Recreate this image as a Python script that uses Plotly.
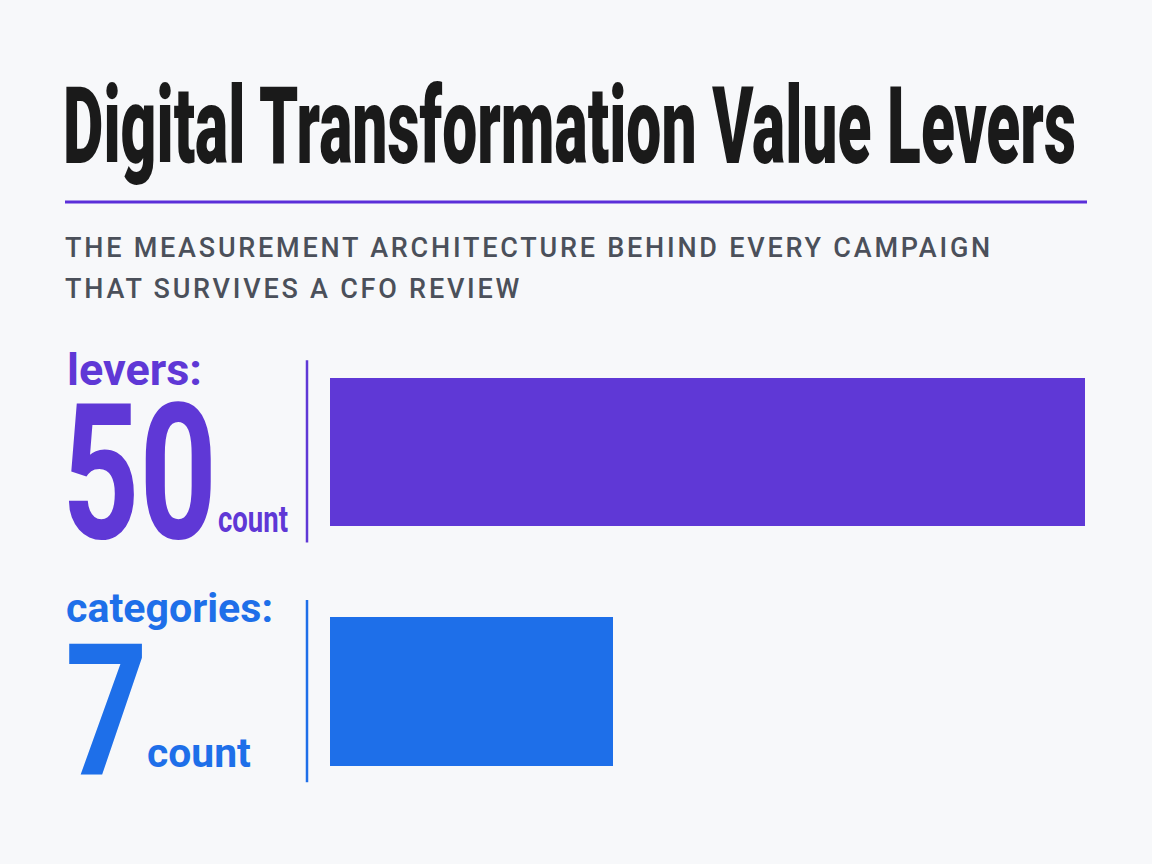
import json
import numpy as np
import plotly.graph_objects as go

# ---- data ----
labels = ["levers", "categories"]
values = [50, 7]
units = ["count", "count"]
title_text = "Digital Transformation Value Levers"
subtitle_lines = ["THE MEASUREMENT ARCHITECTURE BEHIND EVERY CAMPAIGN",
                  "THAT SURVIVES A CFO REVIEW"]

W, H = 1152, 864
BG = "#f7f8fa"
PURPLE = "#5f38d6"
BLUE = "#1e6fe9"
row_colors = [PURPLE, BLUE]
FONT = "Roboto, Inter, sans-serif"


def px(x):
    return x / W


def py(y):
    return 1 - y / H


def bottom_for(baseline, size):
    # annotation box bottom (paper) for a desired text baseline in px
    return py(baseline + 0.26 * size + 1)


fig = go.Figure()

# bars (square-root scaled length)
fig.add_trace(go.Bar(
    y=labels,
    x=np.sqrt(values),
    orientation="h",
    width=0.62,
    marker=dict(color=row_colors, line=dict(width=0)),
    hoverinfo="skip",
    showlegend=False,
))


def ann(text, x, baseline, size, color, weight="bold"):
    return dict(text=text, x=px(x), y=bottom_for(baseline, size),
                xref="paper", yref="paper", xanchor="left", yanchor="bottom",
                showarrow=False,
                font=dict(family=FONT, size=size, color=color, weight=weight))


annotations = [
    ann(title_text, 71, 162, 108, "#1a1a1a", 900),                  # 0
    ann(subtitle_lines[0], 73, 258, 27, "#4b505a", 500),            # 1
    ann(subtitle_lines[1], 73, 299, 27, "#4b505a", 500),            # 2
    ann(labels[0] + ":", 75, 385, 45, row_colors[0]),               # 3
    ann(str(values[0]), 70, 536, 190, row_colors[0]),               # 4
    ann(units[0], 226, 532, 37, row_colors[0]),                     # 5
    ann(labels[1] + ":", 74, 623, 40, row_colors[1]),               # 6
    ann(str(values[1]), 73, 773, 183, row_colors[1]),               # 7
    ann(units[1], 155, 767, 41, row_colors[1]),                     # 8
]

# horizontal fitting targets (left px, width px) for condensed type
fit_specs = [
    dict(i=0, left=71, width=1013),
    dict(i=3, left=75, width=135),
    dict(i=4, left=70, width=155),
    dict(i=5, left=226, width=70),
    dict(i=6, left=74, width=207),
    dict(i=7, left=73, width=83),
    dict(i=8, left=155, width=104),
]
spaced_specs = dict(ref=1, others=[2], left=73, width=928, sx=1.0)

shapes = [
    dict(type="line", xref="paper", yref="paper", x0=px(65), x1=px(1087), y0=py(202), y1=py(202),
         line=dict(color="#5b2fd9", width=3)),
]
for i, c in enumerate(row_colors):
    shapes.append(dict(type="line", xref="paper", yref="y", x0=px(307), x1=px(307),
                       y0=i - 0.38, y1=i + 0.38, line=dict(color=c, width=2.5)))

fig.update_layout(
    width=W, height=H,
    margin=dict(l=0, r=0, t=0, b=0),
    paper_bgcolor=BG, plot_bgcolor=BG,
    annotations=annotations,
    shapes=shapes,
    xaxis=dict(domain=[px(330), px(1085)], range=[0, float(np.sqrt(max(values)))],
               visible=False, showgrid=False, zeroline=False, fixedrange=True),
    yaxis=dict(domain=[py(811), py(331.5)], range=[1.5, -0.5], type="category",
               visible=False, showgrid=False, zeroline=False, fixedrange=True),
    bargap=0,
)

post = """
(function(){
var gd = document.getElementById('{plot_id}');
var fits = FITS;
var sp = SPACED;
function el(i){ return gd.querySelector('g.annotation[data-index="' + i + '"] text.annotation-text'); }
function place(t, left, width, sx){
  t.removeAttribute('transform');
  var bb = t.getBBox();
  var r = t.getBoundingClientRect();
  if (sx === null) { sx = width / bb.width; }
  var dx = left - r.left;
  t.setAttribute('transform', 'translate(' + dx + ',0) translate(' + bb.x + ',0) scale(' + sx + ',1) translate(' + (-bb.x) + ',0)');
}
function run(){
  fits.forEach(function(f){ var t = el(f.i); if (t) place(t, f.left, f.width, null); });
  var t0 = el(sp.ref);
  if (t0) {
    t0.style.letterSpacing = '0px';
    var w0 = t0.getBBox().width;
    var n = t0.textContent.length;
    var ls = (sp.width / sp.sx - w0) / n;
    [sp.ref].concat(sp.others).forEach(function(i){
      var t = el(i); if (!t) return;
      t.style.letterSpacing = ls + 'px';
      place(t, sp.left, null, sp.sx);
    });
  }
}
run();
})();
""".replace("FITS", json.dumps(fit_specs)).replace("SPACED", json.dumps(spaced_specs))

fig.write_html("out.html", post_script=post)
